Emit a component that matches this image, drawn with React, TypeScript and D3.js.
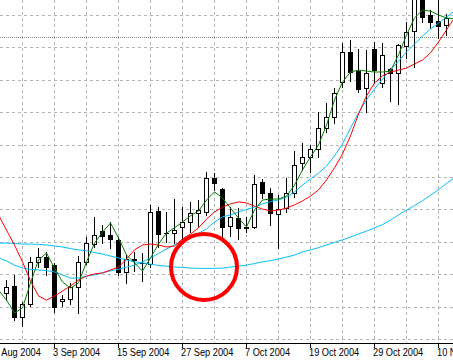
import React from "react";
import * as d3 from "d3";

// Trading days (index 0 = 24 Aug 2004)
const dates: string[] = [
  "2004-08-24", "2004-08-25", "2004-08-26", "2004-08-27", "2004-08-30", "2004-08-31",
  "2004-09-01", "2004-09-02", "2004-09-03", "2004-09-06", "2004-09-07", "2004-09-08",
  "2004-09-09", "2004-09-10", "2004-09-13", "2004-09-14", "2004-09-15", "2004-09-16",
  "2004-09-17", "2004-09-20", "2004-09-21", "2004-09-22", "2004-09-23", "2004-09-24",
  "2004-09-27", "2004-09-28", "2004-09-29", "2004-09-30", "2004-10-01", "2004-10-04",
  "2004-10-05", "2004-10-06", "2004-10-07", "2004-10-08", "2004-10-11", "2004-10-12",
  "2004-10-13", "2004-10-14", "2004-10-15", "2004-10-18", "2004-10-19", "2004-10-20",
  "2004-10-21", "2004-10-22", "2004-10-25", "2004-10-26", "2004-10-27", "2004-10-28",
  "2004-10-29", "2004-11-01", "2004-11-02", "2004-11-03", "2004-11-04", "2004-11-05",
  "2004-11-08", "2004-11-09", "2004-11-10", "2004-11-11", "2004-11-12",
];

const open: (number | null)[] = [
  null, null,
  1.2142, 1.2164, 1.2068, 1.2108, 1.2238, 1.2253, 1.2228, 1.2117, 1.2123, 1.2160,
  1.2238, 1.2293, 1.2333, 1.2321, 1.2306, 1.2207, 1.2245, 1.2235, 1.2231, 1.2395,
  1.2327, 1.2327, 1.2346, 1.2361, 1.2389, 1.2392, 1.2497, 1.2463, 1.2349, 1.2373,
  1.2346, 1.2346, 1.2485, 1.2451, 1.2386, 1.2404, 1.2451, 1.2543, 1.2562, 1.2586,
  1.2651, 1.2685, 1.2793, 1.2886, 1.2827, 1.2775, 1.2895, 1.2790, 1.2833, 1.2821,
  1.2904, 1.2951, 1.3071, 1.3000, 1.2981, 1.2969,
  null,
];
const high: (number | null)[] = [
  null, null,
  1.2182, 1.2198, 1.2114, 1.2253, 1.2281, 1.2269, 1.2235, 1.2136, 1.2173, 1.2256,
  1.2315, 1.2377, 1.2352, 1.2361, 1.2315, 1.2259, 1.2269, 1.2265, 1.2414, 1.2407,
  1.2392, 1.2432, 1.2407, 1.2423, 1.2429, 1.2515, 1.2512, 1.2466, 1.2407, 1.2404,
  1.2377, 1.2506, 1.2494, 1.2466, 1.2444, 1.2497, 1.2580, 1.2605, 1.2599, 1.2701,
  1.2728, 1.2775, 1.2914, 1.2923, 1.2895, 1.2892, 1.2917, 1.2914, 1.2836, 1.2910,
  1.2978, 1.3093, 1.3093, 1.3015, 1.3052, 1.3003,
  null,
];
const low: (number | null)[] = [
  null, null,
  1.2120, 1.2059, 1.2040, 1.2102, 1.2222, 1.2198, 1.2083, 1.2102, 1.2108, 1.2080,
  1.2231, 1.2284, 1.2296, 1.2281, 1.2198, 1.2173, 1.2210, 1.2179, 1.2222, 1.2284,
  1.2299, 1.2296, 1.2306, 1.2330, 1.2349, 1.2383, 1.2460, 1.2315, 1.2318, 1.2309,
  1.2330, 1.2343, 1.2435, 1.2352, 1.2281, 1.2392, 1.2438, 1.2522, 1.2515, 1.2562,
  1.2639, 1.2667, 1.2778, 1.2796, 1.2762, 1.2701, 1.2790, 1.2778, 1.2735, 1.2725,
  1.2867, 1.2840, 1.2978, 1.2960, 1.2929, 1.2938,
  null,
];
const close: (number | null)[] = [
  null, null,
  1.2160, 1.2068, 1.2108, 1.2238, 1.2253, 1.2222, 1.2099, 1.2123, 1.2160, 1.2238,
  1.2296, 1.2321, 1.2318, 1.2309, 1.2207, 1.2247, 1.2247, 1.2236, 1.2392, 1.2324,
  1.2326, 1.2336, 1.2361, 1.2389, 1.2398, 1.2497, 1.2481, 1.2346, 1.2377, 1.2343,
  1.2344, 1.2478, 1.2451, 1.2389, 1.2401, 1.2451, 1.2537, 1.2562, 1.2586, 1.2651,
  1.2685, 1.2759, 1.2886, 1.2824, 1.2772, 1.2821, 1.2830, 1.2877, 1.2821, 1.2907,
  1.2948, 1.3062, 1.2994, 1.2978, 1.2966, 1.2991,
  null,
];

// Moving averages (dark green fast, red, two deep-sky-blue)
const maGreen: (number | null)[] = [
  null,
  1.2151, 1.2120, 1.2080, 1.2096, 1.2173, 1.2244, 1.2265, 1.2219, 1.2176, 1.2157,
  1.2173, 1.2238, 1.2296, 1.2330, 1.2358, 1.2312, 1.2259, 1.2235, 1.2210, 1.2250,
  1.2293, 1.2327, 1.2343, 1.2361, 1.2380, 1.2395, 1.2429, 1.2454, 1.2435, 1.2404,
  1.2373, 1.2346, 1.2398, 1.2429, 1.2432, 1.2432, 1.2441, 1.2475, 1.2522, 1.2562,
  1.2599, 1.2660, 1.2738, 1.2793, 1.2824, 1.2830, 1.2827, 1.2824, 1.2824, 1.2827,
  1.2877, 1.2938, 1.2991, 1.3015, 1.3012, 1.3000, 1.2991, 1.2988,
];
const maRed: (number | null)[] = [
  null,
  1.2383, 1.2336, 1.2290, 1.2238, 1.2179, 1.2133, 1.2120, 1.2133, 1.2148, 1.2164,
  1.2182, 1.2194, 1.2201, 1.2204, 1.2213, 1.2222, 1.2247, 1.2275, 1.2290, 1.2293,
  1.2290, 1.2284, 1.2287, 1.2309, 1.2324, 1.2343, 1.2370, 1.2392, 1.2407, 1.2417,
  1.2423, 1.2420, 1.2410, 1.2401, 1.2395, 1.2398, 1.2404, 1.2414, 1.2426, 1.2441,
  1.2460, 1.2491, 1.2528, 1.2571, 1.2627, 1.2694, 1.2750, 1.2790, 1.2812, 1.2824,
  1.2830, 1.2836, 1.2849, 1.2861, 1.2883, 1.2917, 1.2954, 1.2991,
];
const maBlueFast: (number | null)[] = [
  null,
  1.2250, 1.2241, 1.2228, 1.2219, 1.2215, 1.2213, 1.2211, 1.2207, 1.2198, 1.2188,
  1.2188, 1.2194, 1.2198, 1.2204, 1.2210, 1.2215, 1.2222, 1.2228, 1.2238, 1.2250,
  1.2264, 1.2278, 1.2290, 1.2302, 1.2313, 1.2326, 1.2340, 1.2361, 1.2377, 1.2383,
  1.2392, 1.2400, 1.2407, 1.2417, 1.2424, 1.2429, 1.2438, 1.2454, 1.2475, 1.2494,
  1.2512, 1.2534, 1.2565, 1.2602, 1.2651, 1.2698, 1.2738, 1.2772, 1.2802, 1.2830,
  1.2858, 1.2886, 1.2910, 1.2935, 1.2957, 1.2975, 1.2994, 1.3012,
];
const maBlueSlow: (number | null)[] = [
  null,
  1.2296, 1.2296, 1.2295, 1.2293, 1.2293, 1.2292, 1.2290, 1.2287, 1.2284, 1.2279,
  1.2275, 1.2272, 1.2267, 1.2262, 1.2256, 1.2250, 1.2244, 1.2238, 1.2235, 1.2231,
  1.2227, 1.2225, 1.2222, 1.2221, 1.2219, 1.2218, 1.2218, 1.2218, 1.2219, 1.2222,
  1.2225, 1.2228, 1.2233, 1.2238, 1.2242, 1.2247, 1.2253, 1.2259, 1.2269, 1.2275,
  1.2282, 1.2290, 1.2298, 1.2306, 1.2315, 1.2324, 1.2333, 1.2343, 1.2353, 1.2367,
  1.2383, 1.2398, 1.2412, 1.2427, 1.2444, 1.2461, 1.2480, 1.2498,
];

const priceGrid: number[] = [1.2, 1.21, 1.22, 1.23, 1.24, 1.25, 1.26, 1.27, 1.28, 1.29, 1.3];
const dottedLevel = 1.2932;
// highlighted region (red circle): position in bar index / price
const highlightIndex = 26.75;
const highlightPrice = 1.2222;

const W = 453;
const H = 361;
const PLOT_BOTTOM = 343;

export default function App() {
  const parse = d3.timeParse("%Y-%m-%d");
  const fmt = d3.timeFormat("%-d %b %Y");
  const x = d3
    .scaleLinear()
    .domain([0, dates.length - 1])
    .range([-10, -10 + 8 * (dates.length - 1)]);
  const y = d3.scaleLinear().domain([1.2, 1.3]).range([339, 15]);

  const line = d3
    .line<number | null>()
    .defined((d) => d != null)
    .x((_, i) => Math.round(x(i)) + 0.5)
    .y((d) => y(d as number));

  const vGrid = dates.map((_, i) => i).filter((i) => i % 4 === 0);
  const labels = dates.map((_, i) => i).filter((i) => i % 8 === 0);

  const candles = dates
    .map((_, i) => ({ i, o: open[i], h: high[i], l: low[i], c: close[i] }))
    .filter((d) => d.o != null);

  const font = "'Liberation Sans', Arial, sans-serif";

  return (
    <svg
      width={W}
      height={H}
      style={{ position: "absolute", left: 0, top: 0, background: "#fff" }}
    >
      <rect x={0} y={0} width={W} height={H} fill="#fff" />
      <g shapeRendering="crispEdges">
        {priceGrid.map((p) => (
          <line
            key={"h" + p}
            x1={0}
            x2={W}
            y1={Math.round(y(p)) + 0.5}
            y2={Math.round(y(p)) + 0.5}
            stroke="#b4b4b4"
            strokeDasharray="3,3"
          />
        ))}
        {vGrid.map((i) => (
          <line
            key={"v" + i}
            x1={Math.round(x(i)) + 0.5}
            x2={Math.round(x(i)) + 0.5}
            y1={0}
            y2={PLOT_BOTTOM}
            stroke="#b4b4b4"
            strokeDasharray="3,3"
          />
        ))}
        <line
          x1={0}
          x2={W}
          y1={Math.round(y(dottedLevel)) + 0.5}
          y2={Math.round(y(dottedLevel)) + 0.5}
          stroke="#8a8a8a"
          strokeDasharray="1,1"
        />
      </g>
      <g shapeRendering="crispEdges">
        {candles.map((d) => {
          const cx = Math.round(x(d.i));
          const yh = Math.round(y(d.h as number));
          const yl = Math.round(y(d.l as number));
          const yo = Math.round(y(d.o as number));
          const yc = Math.round(y(d.c as number));
          const top = Math.min(yo, yc);
          const bot = Math.max(yo, yc);
          const bull = (d.c as number) > (d.o as number);
          return (
            <g key={d.i}>
              <line x1={cx + 0.5} x2={cx + 0.5} y1={yh} y2={yl + 1} stroke="#000" />
              {bot - top < 1 ? (
                <line x1={cx - 2} x2={cx + 3} y1={top + 0.5} y2={top + 0.5} stroke="#000" />
              ) : (
                <rect
                  x={cx - 1.5}
                  y={top + 0.5}
                  width={4}
                  height={bot - top}
                  fill={bull ? "#fff" : "#000"}
                  stroke="#000"
                />
              )}
            </g>
          );
        })}
      </g>
      <g fill="none" strokeWidth={1}>
        <path d={line(maBlueSlow) || ""} stroke="#00bfff" />
        <path d={line(maBlueFast) || ""} stroke="#00bfff" />
        <path d={line(maRed) || ""} stroke="#ff0000" />
        <path d={line(maGreen) || ""} stroke="#008000" />
      </g>
      <circle
        cx={x(highlightIndex)}
        cy={y(highlightPrice)}
        r={33}
        fill="none"
        stroke="#ff0000"
        strokeWidth={4}
      />
      <rect x={0} y={PLOT_BOTTOM + 0.5} width={W} height={H - PLOT_BOTTOM} fill="#fff" />
      <g shapeRendering="crispEdges">
        <line x1={0} x2={W} y1={PLOT_BOTTOM + 0.5} y2={PLOT_BOTTOM + 0.5} stroke="#000" />
        {labels.map((i) => (
          <line
            key={"t" + i}
            x1={Math.round(x(i)) + 0.5}
            x2={Math.round(x(i)) + 0.5}
            y1={PLOT_BOTTOM}
            y2={PLOT_BOTTOM + 5}
            stroke="#000"
          />
        ))}
      </g>
      {labels.map((i) => (
        <text
          key={"l" + i}
          transform={`translate(${Math.round(x(i)) - 1},356) scale(0.84,1)`}
          fontFamily={font}
          fontSize={11}
          fill="#000"
        >
          {fmt(parse(dates[i]) as Date)}
        </text>
      ))}
    </svg>
  );
}
